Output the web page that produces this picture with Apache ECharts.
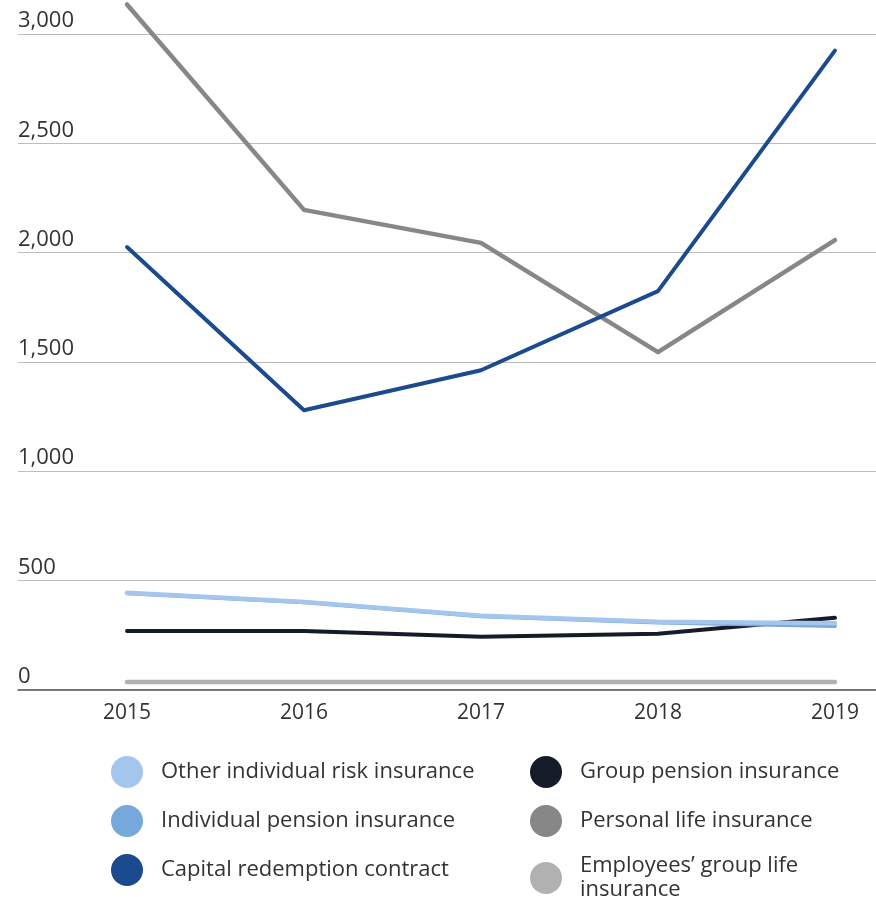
<!DOCTYPE html>
<html>
<head>
<meta charset="utf-8">
<script src="https://cdn.jsdelivr.net/npm/echarts@6/dist/echarts.min.js"></script>
<style>
  html, body { margin: 0; padding: 0; background: #fff; }
  #chart { width: 876px; height: 897px; }
</style>
</head>
<body>
<div id="chart"></div>
<script>
// Premiums by line of business, 2015–2019
const years = [2015, 2016, 2017, 2018, 2019];
const yTicks = [0, 500, 1000, 1500, 2000, 2500, 3000];

const otherIndividualRisk = [443, 401, 337, 310, 303];
const individualPension   = [441, 399, 335, 307, 291];
const capitalRedemption   = [2025, 1278, 1461, 1823, 2924];
const groupPension        = [268, 268, 241, 255, 328];
const personalLife        = [3135, 2195, 2044, 1544, 2057];
const employeesGroupLife  = [34, 34, 34, 34, 34];

const FONT = '"Open Sans"';
const WEIGHT = 400;
const TEXT = '#333333';

const chart = echarts.init(document.getElementById('chart'));

function pts(values) {
  return values.map((v, i) => [years[i], v]);
}

function line(name, values, color, width) {
  return {
    name: name,
    type: 'line',
    data: pts(values),
    symbol: 'none',
    clip: false,
    color: color,
    lineStyle: { color: color, width: width || 4, cap: 'round', join: 'round' },
    emphasis: { disabled: true }
  };
}

// one legend entry per slot of the two-column key
function key(name, left, top) {
  return {
    left: left, top: top, padding: 0,
    icon: 'circle', itemWidth: 32, itemHeight: 32,
    textStyle: {
      fontFamily: FONT, fontWeight: WEIGHT, fontSize: 22, color: TEXT,
      padding: [0, 0, 0, 13], lineHeight: 24
    },
    formatter: n => n === 'Employees\u2019 group life insurance' ? 'Employees\u2019 group life\ninsurance' : n,
    data: [name]
  };
}

chart.setOption({
  animation: false,
  backgroundColor: '#fff',
  grid: { left: 18, right: 0, top: 34, bottom: 207.5, containLabel: false },
  xAxis: {
    type: 'value',
    min: 2014.384,
    max: 2019.232,
    axisLine: { show: true, lineStyle: { color: '#555', width: 1.5 } },
    axisTick: { show: false },
    splitLine: { show: false },
    axisLabel: {
      customValues: years,
      formatter: v => String(v),
      fontFamily: FONT, fontWeight: WEIGHT, fontSize: 21, color: TEXT, margin: 13
    }
  },
  yAxis: {
    type: 'value',
    min: 0,
    max: 3000,
    interval: 500,
    axisLine: { show: false },
    axisTick: { show: false },
    splitLine: { lineStyle: { color: '#bdbdbd', width: 1 } },
    axisLabel: {
      inside: true,
      align: 'left',
      verticalAlign: 'bottom',
      margin: 0,
      padding: [0, 0, 2, 0],
      fontFamily: FONT, fontWeight: WEIGHT, fontSize: 22, color: TEXT,
      formatter: v => yTicks.includes(v) ? v.toLocaleString('en-US') : ''
    }
  },
  legend: [
    key('Other individual risk insurance', 111, 756),
    key('Individual pension insurance', 111, 805),
    key('Capital redemption contract', 111, 854),
    key('Group pension insurance', 530, 756),
    key('Personal life insurance', 530, 805),
    key('Employees\u2019 group life insurance', 530, 854)
  ],
  series: [
    line('Employees\u2019 group life insurance', employeesGroupLife, '#b1b1b1', 4.5),
    line('Personal life insurance', personalLife, '#878787', 4.5),
    line('Capital redemption contract', capitalRedemption, '#1b4b8e', 4),
    line('Group pension insurance', groupPension, '#161b2a', 4),
    line('Individual pension insurance', individualPension, '#76a8db', 4),
    line('Other individual risk insurance', otherIndividualRisk, '#a4c5ec', 4.5)
  ]
});
</script>
</body>
</html>
